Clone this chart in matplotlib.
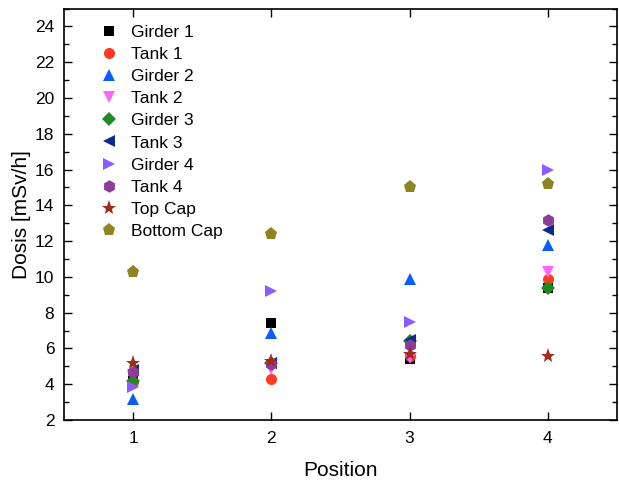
import matplotlib
matplotlib.use("Agg")
import matplotlib.pyplot as plt
from matplotlib.ticker import MultipleLocator

plt.rcParams["font.family"] = ["Liberation Sans", "DejaVu Sans"]

positions = [1, 2, 3, 4]

girder_1 = [4.2, 7.4, 5.4, 9.4]
tank_1 = [4.1, 4.3, 5.6, 9.9]
girder_2 = [3.2, 6.85, 9.9, 11.8]
tank_2 = [4.4, 4.85, 5.45, 10.3]
girder_3 = [4.2, 5.2, 6.4, 9.4]
tank_3 = [4.8, 5.2, 6.5, 12.6]
girder_4 = [3.85, 9.2, 7.5, 16.0]
tank_4 = [4.7, 5.15, 6.2, 13.2]
top_cap = [5.2, 5.3, 5.7, 5.6]
bottom_cap = [10.3, 12.4, 15.0, 15.2]

series = [
    ("Girder 1", girder_1, "s", "#000000"),
    ("Tank 1", tank_1, "o", "#ff3b22"),
    ("Girder 2", girder_2, "^", "#0a5cff"),
    ("Tank 2", tank_2, "v", "#ff66ff"),
    ("Girder 3", girder_3, "D", "#1f8a1f"),
    ("Tank 3", tank_3, "<", "#0b2a8f"),
    ("Girder 4", girder_4, ">", "#8a5cff"),
    ("Tank 4", tank_4, "h", "#8e3c97"),
    ("Top Cap", top_cap, "*", "#a02a1c"),
    ("Bottom Cap", bottom_cap, "p", "#8e8422"),
]

sizes = {"s": 7.5, "o": 8, "^": 9, "v": 9, "D": 7, "<": 9, ">": 9,
         "h": 9, "*": 11, "p": 9.5}

fig = plt.figure(figsize=(6.19, 4.84), dpi=100)
ax = fig.add_axes([0.1034, 0.1322, 0.8934, 0.8502])

for name, vals, mk, col in series:
    ax.plot(positions, vals, linestyle="none", marker=mk, color=col,
            markersize=sizes[mk], markeredgewidth=0, label=name)

ax.set_xlim(0.5, 4.5)
ax.set_ylim(2, 25)
ax.xaxis.set_major_locator(MultipleLocator(1))
ax.yaxis.set_minor_locator(MultipleLocator(1))
ax.set_yticks(range(2, 26, 2))
ax.tick_params(which="both", direction="in", top=True, right=True,
               labelsize=12.5, width=1)
ax.tick_params(which="major", length=6)
ax.tick_params(which="minor", length=3.5)
ax.tick_params(axis="y", pad=7)
ax.tick_params(axis="x", pad=8)
ax.tick_params(axis="x", which="minor", top=False, bottom=False)
for sp in ax.spines.values():
    sp.set_linewidth(1.2)

ax.set_xlabel("Position", fontsize=15, labelpad=11)
ax.set_ylabel("Dosis [mSv/h]", fontsize=15, labelpad=3)

ax.legend(loc="upper left", bbox_to_anchor=(0.045, 0.977), frameon=False,
          fontsize=12.5, labelspacing=0.40, handletextpad=0.55,
          handlelength=1.5, borderaxespad=0, numpoints=1)

plt.savefig("out.png", dpi=100)
plt.close()
